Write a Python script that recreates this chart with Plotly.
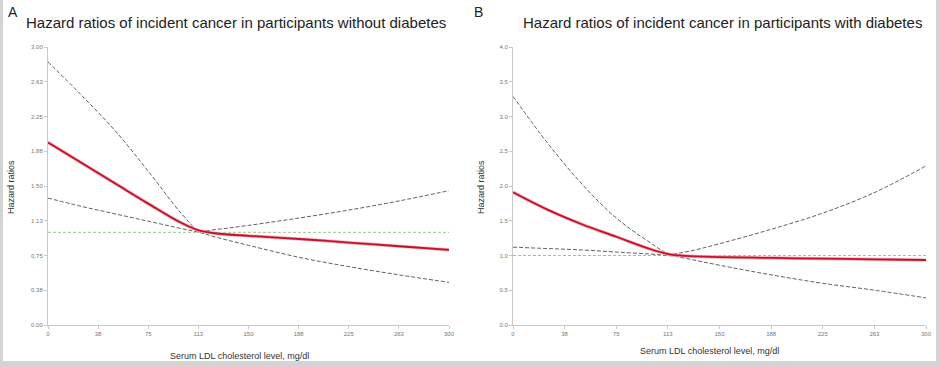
import plotly.graph_objects as go

# ---- data ----
ldl = [0, 25, 50, 75, 100, 113, 125, 150, 188, 225, 263, 300]

a_hr    = [1.97, 1.75, 1.53, 1.31, 1.10, 1.02, 0.99, 0.962, 0.928, 0.89, 0.85, 0.81]
a_upper = [2.84, 2.48, 2.10, 1.66, 1.20, 1.02, 1.03, 1.075, 1.155, 1.24, 1.34, 1.45]
a_lower = [1.37, 1.28, 1.20, 1.12, 1.04, 1.00, 0.95, 0.86, 0.73, 0.63, 0.54, 0.46]

b_hr    = [1.91, 1.66, 1.45, 1.27, 1.09, 1.02, 0.995, 0.978, 0.965, 0.955, 0.945, 0.935]
b_upper = [3.29, 2.62, 2.03, 1.54, 1.18, 1.03, 1.05, 1.17, 1.38, 1.61, 1.91, 2.29]
b_lower = [1.12, 1.10, 1.08, 1.05, 1.02, 1.00, 0.96, 0.86, 0.72, 0.60, 0.50, 0.39]

ref_value = 1.0

x_tickvals = [0, 37.5, 75, 112.5, 150, 187.5, 225, 262.5, 300]
x_ticktext = ["0", "38", "75", "113", "150", "188", "225", "263", "300"]
a_y_tickvals = [0, 0.375, 0.75, 1.125, 1.5, 1.875, 2.25, 2.625, 3.0]
a_y_ticktext = ["0.00", "0.38", "0.75", "1.13", "1.50", "1.88", "2.25", "2.63", "3.00"]
b_y_tickvals = [0, 0.5, 1.0, 1.5, 2.0, 2.5, 3.0, 3.5, 4.0]
b_y_ticktext = ["0.0", "0.5", "1.0", "1.5", "2.0", "2.5", "3.0", "3.5", "4.0"]

title_a = "Hazard ratios of incident cancer in participants without diabetes"
title_b = "Hazard ratios of incident cancer in participants with diabetes"
x_title = "Serum LDL cholesterol level, mg/dl"
y_title = "Hazard ratios"

W, H = 940, 367
def px(x): return x / W
def py(y): return 1 - y / H

fig = go.Figure()

def add_panel(xa, ya, hr, up, lo):
    ci = dict(color="#606060", width=1, dash="4px,2px", shape="spline", smoothing=1.0)
    fig.add_trace(go.Scatter(x=[0, 300], y=[ref_value, ref_value], mode="lines",
                             line=dict(color="#9cc78a", width=1, dash="3px,2px"),
                             xaxis=xa, yaxis=ya, hoverinfo="skip"))
    fig.add_trace(go.Scatter(x=ldl, y=up, mode="lines", line=ci, xaxis=xa, yaxis=ya))
    fig.add_trace(go.Scatter(x=ldl, y=lo, mode="lines", line=ci, xaxis=xa, yaxis=ya))
    fig.add_trace(go.Scatter(x=ldl, y=hr, mode="lines",
                             line=dict(color="#f2a5a5", width=3.2, shape="spline", smoothing=1.0),
                             xaxis=xa, yaxis=ya, hoverinfo="skip"))
    fig.add_trace(go.Scatter(x=ldl, y=hr, mode="lines",
                             line=dict(color="#c8102e", width=1.8, shape="spline", smoothing=1.0),
                             xaxis=xa, yaxis=ya))

add_panel("x", "y", a_hr, a_upper, a_lower)
add_panel("x2", "y2", b_hr, b_upper, b_lower)

tickfont = dict(family="Liberation Sans", size=6, color="#777777")
common_x = dict(range=[0, 300], tickvals=x_tickvals, ticktext=x_ticktext,
                showgrid=False, zeroline=False, showline=True, linecolor="#c8c8c8",
                linewidth=1, ticks="outside", ticklen=3, tickcolor="#c8c8c8",
                tickfont=tickfont, fixedrange=True, automargin=False)
common_y = dict(showgrid=False, zeroline=False, showline=True, linecolor="#c8c8c8",
                linewidth=1, ticks="outside", ticklen=3, tickcolor="#c8c8c8",
                tickfont=tickfont, fixedrange=True, automargin=False)

ydom = [py(325), py(47)]
fig.update_layout(
    width=W, height=H, margin=dict(l=0, r=0, t=0, b=0),
    paper_bgcolor="white", plot_bgcolor="white", showlegend=False,
    xaxis=dict(domain=[px(48), px(449)], anchor="y", **common_x),
    yaxis=dict(domain=ydom, anchor="x", range=[0, 3], tickvals=a_y_tickvals,
               ticktext=a_y_ticktext, **common_y),
    xaxis2=dict(domain=[px(513), px(926)], anchor="y2", **common_x),
    yaxis2=dict(domain=ydom, anchor="x2", range=[0, 4], tickvals=b_y_tickvals,
                ticktext=b_y_ticktext, **common_y),
)

ann = []
def text(x, y, s, size, color="#222222", angle=0, family="Liberation Sans", xanchor="center"):
    ann.append(dict(x=px(x), y=py(y), xref="paper", yref="paper", text=s, showarrow=False,
                    font=dict(family=family, size=size, color=color), textangle=angle,
                    xanchor=xanchor, yanchor="middle"))

text(6, 12, "A", 14, xanchor="left")
text(472, 12, "B", 14, xanchor="left")
text(236, 22, title_a, 15)
text(722, 22, title_b, 15)
text(240, 356, x_title, 9, color="#333333")
text(709, 351, x_title, 9, color="#333333")
text(11, 187, y_title, 9, color="#333333", angle=-90)
text(481, 187, y_title, 9, color="#333333", angle=-90)
fig.update_layout(annotations=ann)

# light grey frame around the panels
gray = "#d4d4d4"
shapes = [
    dict(type="rect", xref="paper", yref="paper", x0=0, x1=px(3), y0=0, y1=1, fillcolor=gray, line_width=0, layer="below"),
    dict(type="rect", xref="paper", yref="paper", x0=0, x1=1, y0=0, y1=py(361), fillcolor=gray, line_width=0, layer="below"),
    dict(type="rect", xref="paper", yref="paper", x0=px(936), x1=1, y0=0, y1=1, fillcolor=gray, line_width=0, layer="below"),
]
fig.update_layout(shapes=shapes)

fig.write_html("out.html", config={"displayModeBar": False},
               post_script="document.body.style.margin='0';document.body.style.overflow='hidden';")
